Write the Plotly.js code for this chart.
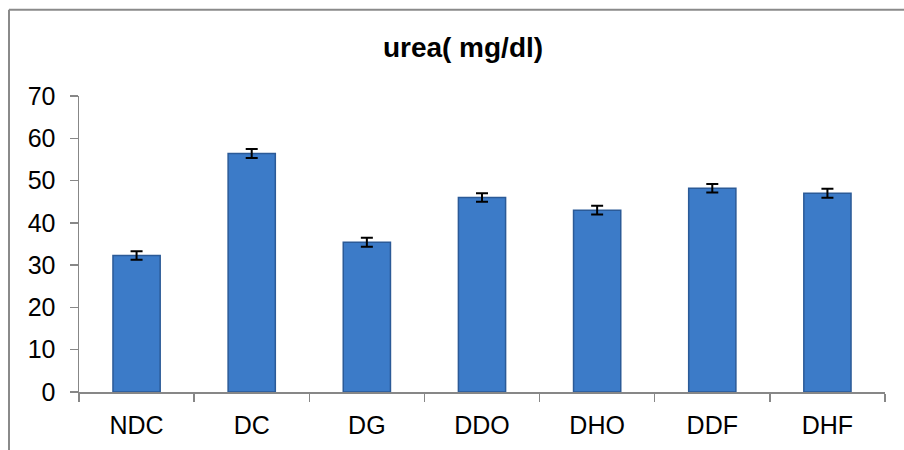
<!DOCTYPE html>
<html>
<head>
<meta charset="utf-8">
<script src="https://cdn.plot.ly/plotly-3.0.1.min.js"></script>
<style>html,body{margin:0;padding:0;background:#fff;}#chart{width:904px;height:450px;}</style>
</head>
<body>
<div id="chart"></div>
<script>
const categories = ["NDC", "DC", "DG", "DDO", "DHO", "DDF", "DHF"];
const ureaValues = [32.3, 56.4, 35.4, 46.0, 43.0, 48.2, 47.0];
const ureaErrors = [1.0, 1.05, 1.05, 1.0, 1.05, 1.0, 1.05];
const yTicks = [0, 10, 20, 30, 40, 50, 60, 70];

const trace = {
  type: "bar",
  x: categories,
  y: ureaValues,
  marker: { color: "#3c7bc8", line: { color: "#2b5a97", width: 1.5 } },
  error_y: { type: "data", array: ureaErrors, visible: true, color: "#000", thickness: 2, width: 6 },
  hoverinfo: "x+y"
};

const font = "Liberation Sans, Arial, sans-serif";
const L = 79, R = 19, T = 96, B = 57.5, W = 904, H = 450;
const pw = W - L - R, ph = H - T - B;
const px = v => (v - L) / pw;
const py = v => (H - B - v) / ph;

const layout = {
  width: W, height: H,
  margin: { l: L, r: R, t: T, b: B, pad: 0 },
  paper_bgcolor: "#fff", plot_bgcolor: "#fff",
  showlegend: false,
  bargap: 0.59,
  title: { text: "<b>urea( mg/dl)</b>", font: { family: font, size: 28, color: "#000" },
           x: 463 / W, xanchor: "center", y: 1 - 47 / H, yanchor: "middle", xref: "container", yref: "container" },
  xaxis: {
    type: "category",
    showline: true, linecolor: "#878787", linewidth: 1.5,
    ticks: "outside", tickson: "boundaries", ticklen: 8, tickcolor: "#878787", tickwidth: 1.5,
    tickfont: { family: font, size: 25, color: "#000" },
    showgrid: false, zeroline: false, ticklabelstandoff: 10
  },
  yaxis: {
    range: [0, 70], tickvals: yTicks, ticktext: yTicks.map(String),
    showline: true, linecolor: "#878787", linewidth: 1.5,
    ticks: "outside", ticklen: 8, tickcolor: "#878787", tickwidth: 1.5,
    tickfont: { family: font, size: 25, color: "#000" },
    showgrid: false, zeroline: false, ticklabelstandoff: 9
  },
  shapes: [
    { type: "line", xref: "paper", yref: "paper", x0: px(9), x1: px(9), y0: py(460), y1: py(9.5),
      line: { color: "#8a8a8a", width: 2 } },
    { type: "line", xref: "paper", yref: "paper", x0: px(9), x1: px(910), y0: py(9.5), y1: py(9.5),
      line: { color: "#8a8a8a", width: 2 } }
  ]
};

Plotly.newPlot("chart", [trace], layout, { displayModeBar: false, staticPlot: true });
</script>
</body>
</html>
